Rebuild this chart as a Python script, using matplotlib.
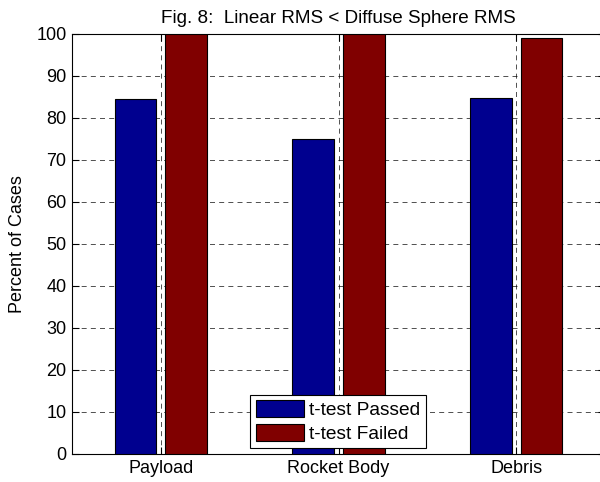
import matplotlib.pyplot as plt
import numpy as np

plt.rcParams['font.family'] = ['Liberation Sans', 'DejaVu Sans']

# datos
categorias = ['Payload', 'Rocket Body', 'Debris']
pasados = [84.5, 75.0, 84.7]
fallados = [100.0, 100.0, 99.0]
series = ['t-test Passed', 't-test Failed']

x = np.arange(1, len(categorias) + 1)
ancho = 0.235
desp = 0.143

fig = plt.figure(figsize=(6.0, 4.82), dpi=100)
ax = fig.add_axes([72 / 600, 28 / 482, 533 / 600, 420 / 482])

ax.bar(x - desp, pasados, ancho, color='#00008f', edgecolor='black',
       linewidth=0.8, label=series[0], zorder=3)
ax.bar(x + desp, fallados, ancho, color='#800000', edgecolor='black',
       linewidth=0.8, label=series[1], zorder=3)

ax.set_xlim(0.5, 3.5)
ax.set_ylim(0, 100)
ax.set_xticks(x)
ax.set_xticklabels(categorias)
ax.set_yticks(np.arange(0, 101, 10))
ax.tick_params(direction='in', length=5, labelsize=13, pad=4,
               top=True, right=True)

ax.grid(True, linestyle=(0, (6, 5)), color='black', linewidth=0.6, alpha=0.8, zorder=0)
ax.set_axisbelow(True)

ax.set_ylabel('Percent of Cases', fontsize=13, labelpad=7)
ax.set_title('Fig. 8:  Linear RMS < Diffuse Sphere RMS', fontsize=13.6, pad=8)

leg = ax.legend(loc='lower center', bbox_to_anchor=((338 - 72) / 533, 0.0), fontsize=13.8,
                fancybox=False, edgecolor='black', framealpha=1,
                handlelength=2.55, handleheight=0.95, handletextpad=0.26,
                borderpad=0.27, labelspacing=0.28, borderaxespad=0.3)
leg.get_frame().set_linewidth(0.8)

fig.savefig('out.png', dpi=100)
